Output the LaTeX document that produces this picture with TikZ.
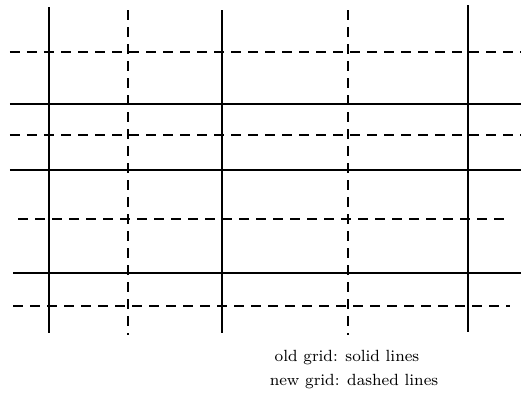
\documentclass[tikz,border=0pt]{standalone}
\usepackage{tikz}

\tikzset{
  oldline/.style={line width=1.1pt},
  newline/.style={line width=1pt, dash pattern=on 5pt off 3.5pt},
  legend/.style={font=\fontsize{8.1}{10}\selectfont, inner sep=1pt},
}

\begin{document}
\begin{tikzpicture}[x=0.5pt,y=-0.5pt]
\useasboundingbox (0,0) rectangle (521,403);

% Old grid (solid)
\foreach \x/\a/\b in {49/7/333, 222/10/333, 468/5/332}
  \draw[oldline] (\x,\a) -- (\x,\b);
\foreach \y/\a/\b in {104/10/521, 170/10/521, 273/13/521}
  \draw[oldline] (\a,\y) -- (\b,\y);

% New grid (dashed)
\foreach \x in {128,348}
  \draw[newline] (\x,10) -- (\x,335);
\foreach \y/\a/\b in {52/10/521, 135/10/521, 219/18/510, 306/13/510}
  \draw[newline] (\a,\y) -- (\b,\y);

% Labels
\node[legend] (oldlbl) at (347,358) {old grid: solid lines};
\node[legend] (newlbl) at (354,382) {new grid: dashed lines};
\end{tikzpicture}
\end{document}
